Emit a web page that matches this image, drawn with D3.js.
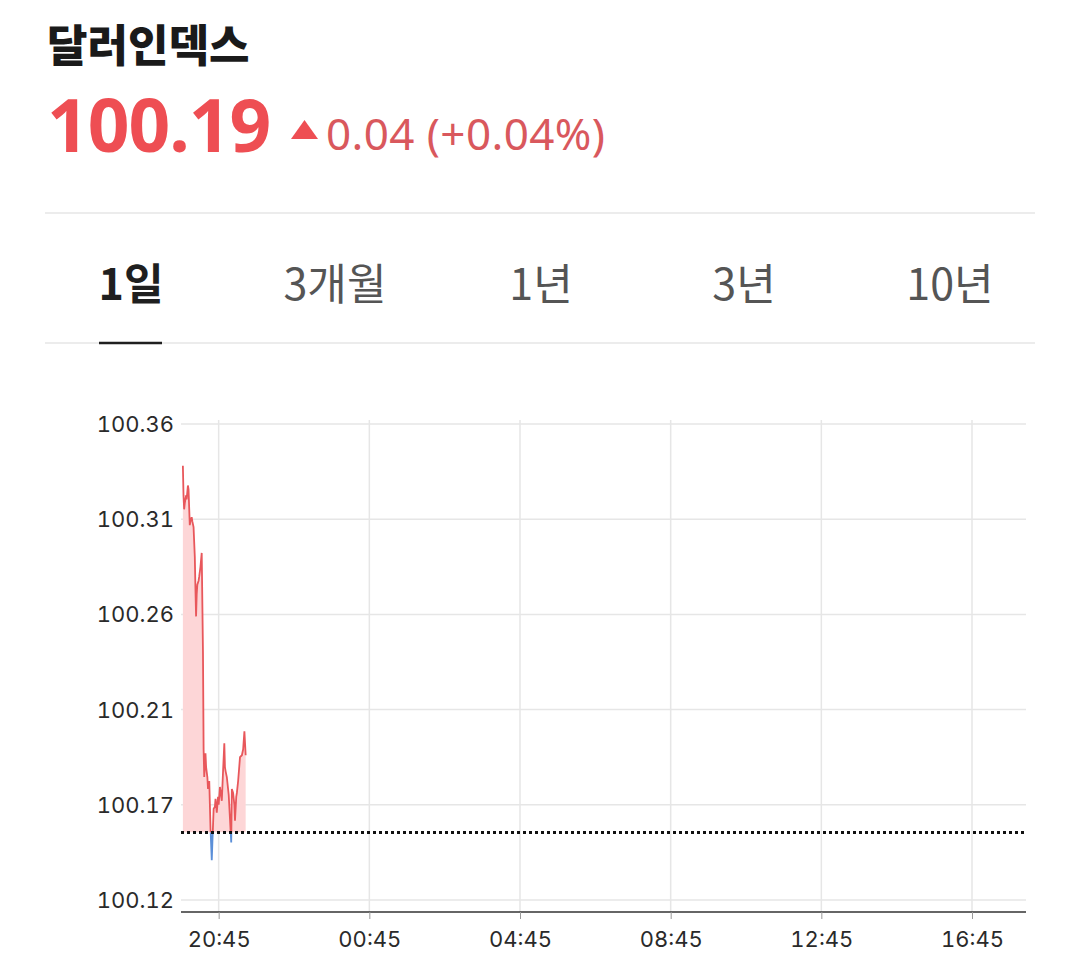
<!DOCTYPE html>
<html>
<head>
<meta charset="utf-8">
<script src="https://cdn.jsdelivr.net/npm/d3@7"></script>
<style>
  body { margin: 0; background: #fff; }
</style>
</head>
<body>
<div id="app"></div>
<script>
// header info
let title = "달러인덱스";
let lastPrice = "100.19";
let change = "0.04 (+0.04%)";
let tabs = ["1일", "3개월", "1년", "3년", "10년"];
let prevClose = 100.156;

// intraday series (time, value)
let times = ["19:48","19:49","19:50","19:51","19:53","19:54","19:56","19:57","19:59","20:00",
  "20:02","20:03","20:05","20:07","20:08","20:09","20:10","20:11","20:13","20:14",
  "20:16","20:18","20:20","20:21","20:22","20:24","20:25","20:27","20:28","20:30",
  "20:32","20:34","20:35","20:37","20:39","20:40","20:42","20:44","20:45","20:47",
  "20:50","20:52","20:54","20:55","20:56","20:58","20:59","21:01","21:03","21:05",
  "21:06","21:08","21:10","21:11","21:13","21:14","21:16","21:19","21:22","21:24",
  "21:26","21:28"];
let values = [100.341,100.326,100.319,100.322,100.326,100.324,100.331,100.329,100.311,100.313,
  100.315,100.313,100.310,100.295,100.279,100.265,100.276,100.281,100.283,100.285,
  100.290,100.297,100.247,100.198,100.184,100.196,100.189,100.184,100.178,100.182,
  100.158,100.142,100.151,100.168,100.169,100.173,100.166,100.174,100.170,100.179,
  100.172,100.187,100.201,100.189,100.187,100.184,100.181,100.175,100.163,100.151,
  100.178,100.176,100.170,100.162,100.174,100.176,100.182,100.194,100.195,100.198,
  100.207,100.195];

// gridline values; labels are the values cut to two decimals
let yTicks = [100.122, 100.170, 100.218, 100.266, 100.314, 100.362];
let xTickLabels = ["20:45", "00:45", "04:45", "08:45", "12:45", "16:45"];

function toDate(s) {
  let [h, m] = s.split(":").map(Number);
  let d = new Date(2024, 0, 1, h, m);
  if (h < 19) d.setDate(2);
  return d;
}

let data = times.map((t, i) => ({ t: toDate(t), v: values[i] }));

var width = 1079, height = 969;

let svg = d3.select("#app").append("svg")
  .attr("width", width)
  .attr("height", height)
  .style("font-family", "'Noto Sans CJK KR', 'Noto Sans', sans-serif");

// header
svg.append("text").attr("x", 47).attr("y", 62)
  .attr("font-size", 44).attr("font-weight", 900).attr("fill", "#1a1a1a")
  .text(title);

svg.append("text").attr("x", 47).attr("y", 152)
  .attr("font-family", "'Noto Sans', sans-serif")
  .attr("font-size", 73).attr("font-weight", 700).attr("fill", "#ee4e53")
  .attr("letter-spacing", -1)
  .text(lastPrice);

svg.append("path")
  .attr("d", "M291,139 L304.5,120 L318,139 Z")
  .attr("fill", "#ee4e53");

svg.append("text").attr("x", 326).attr("y", 150)
  .attr("font-family", "'Noto Sans', sans-serif")
  .attr("font-size", 44).attr("fill", "#d9585d")
  .attr("letter-spacing", 0.4)
  .text(change);

// tabs
svg.append("line").attr("x1", 45).attr("x2", 1035).attr("y1", 213).attr("y2", 213)
  .attr("stroke", "#ececec").attr("stroke-width", 2);
svg.append("line").attr("x1", 45).attr("x2", 1035).attr("y1", 343).attr("y2", 343)
  .attr("stroke", "#ececec").attr("stroke-width", 2);

let tabX = [131, 335, 541, 744, 950];
svg.append("g").selectAll("text").data(tabs).enter().append("text")
  .attr("x", (d, i) => tabX[i]).attr("y", 300)
  .attr("text-anchor", "middle")
  .attr("font-size", 43)
  .attr("font-weight", (d, i) => (i === 0 ? 700 : 400))
  .attr("fill", (d, i) => (i === 0 ? "#1f1f1f" : "#555"))
  .text((d) => d);

svg.append("line").attr("x1", 99).attr("x2", 162).attr("y1", 343).attr("y2", 343)
  .attr("stroke", "#1f1f1f").attr("stroke-width", 2.5);

// chart scales
let plot = { left: 181, right: 1026, top: 418, bottom: 912 };

let x = d3.scaleTime()
  .domain([toDate("19:45"), toDate("18:11")])
  .range([plot.left, plot.right]);

let y = d3.scaleLinear()
  .domain([100.122, 100.362])
  .range([900, 424]);

let chart = svg.append("g")
  .style("font-family", "Inter, 'Liberation Sans', sans-serif")
  .style("font-variant-numeric", "tabular-nums");

// horizontal grids
chart.append("g").selectAll("line").data(yTicks).enter().append("line")
  .attr("x1", plot.left).attr("x2", plot.right)
  .attr("y1", (d) => y(d)).attr("y2", (d) => y(d))
  .attr("stroke", "#e6e6e6").attr("stroke-width", 1.5);

// vertical grids
let xTicks = xTickLabels.map(toDate);
chart.append("g").selectAll("line").data(xTicks).enter().append("line")
  .attr("x1", (d) => x(d)).attr("x2", (d) => x(d))
  .attr("y1", 420).attr("y2", plot.bottom)
  .attr("stroke", "#e6e6e6").attr("stroke-width", 1.5);

// y labels
chart.append("g").selectAll("text").data(yTicks).enter().append("text")
  .attr("x", 174)
  .attr("y", (d) => y(d) + 8)
  .attr("text-anchor", "end")
  .attr("font-size", 22).attr("fill", "#2a2a2a")
  .text((d) => (Math.floor(d * 100 + 1e-6) / 100).toFixed(2));

// x axis
let xAxis = chart.append("g")
  .attr("transform", "translate(0," + plot.bottom + ")")
  .call(d3.axisBottom(x).tickValues(xTicks).tickFormat(d3.timeFormat("%H:%M")).tickSizeOuter(0).tickSize(7));
xAxis.select(".domain").attr("stroke", "#333").attr("stroke-width", 1.5)
  .attr("d", "M" + plot.left + ",0H" + plot.right);
xAxis.selectAll(".tick line").attr("stroke", "#999");
xAxis.selectAll(".tick text")
  .attr("font-size", 22).attr("fill", "#2a2a2a")
  .attr("font-family", "Inter, 'Liberation Sans', sans-serif")
  .attr("dy", 0).attr("y", 35);

// clip regions above / below previous close
let defs = svg.append("defs");
defs.append("clipPath").attr("id", "above").append("rect")
  .attr("x", plot.left).attr("y", plot.top)
  .attr("width", plot.right - plot.left).attr("height", y(prevClose) - plot.top);
defs.append("clipPath").attr("id", "below").append("rect")
  .attr("x", plot.left).attr("y", y(prevClose))
  .attr("width", plot.right - plot.left).attr("height", plot.bottom - y(prevClose));

let area = d3.area()
  .x((d) => x(d.t))
  .y0(y(prevClose))
  .y1((d) => y(d.v));

let line = d3.line()
  .x((d) => x(d.t))
  .y((d) => y(d.v));

chart.append("path").datum(data)
  .attr("clip-path", "url(#above)")
  .attr("d", area)
  .attr("fill", "#fdd6d7");

chart.append("path").datum(data)
  .attr("clip-path", "url(#above)")
  .attr("d", line)
  .attr("fill", "none").attr("stroke", "#e8575b").attr("stroke-width", 1.8);

chart.append("path").datum(data)
  .attr("clip-path", "url(#below)")
  .attr("d", line)
  .attr("fill", "none").attr("stroke", "#5b8fd8").attr("stroke-width", 1.8);

// previous close line
chart.append("line")
  .attr("x1", plot.left).attr("x2", plot.right)
  .attr("y1", y(prevClose)).attr("y2", y(prevClose))
  .attr("stroke", "#111").attr("stroke-width", 3)
  .attr("stroke-dasharray", "3,3");
</script>
</body>
</html>
